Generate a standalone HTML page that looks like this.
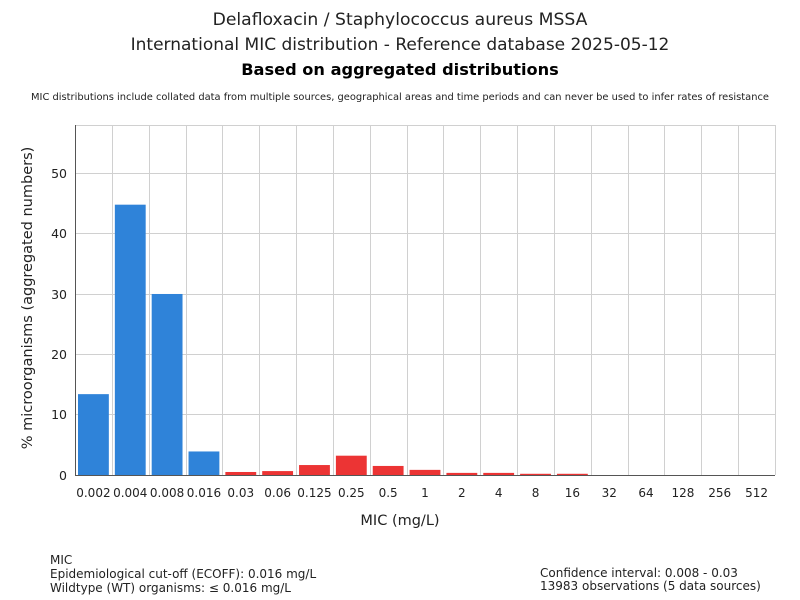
<!DOCTYPE html>
<html><head><meta charset="utf-8"><style>
body{margin:0;background:#fff}
svg{display:block;font-family:"DejaVu Sans","Liberation Sans",sans-serif}
</style></head><body>
<svg width="800" height="600" viewBox="0 0 800 600">
<rect width="800" height="600" fill="#fff"/>
<text x="400" y="25" font-size="17.2" text-anchor="middle" fill="#222">Delafloxacin / Staphylococcus aureus MSSA</text>
<text x="400" y="50" font-size="17" text-anchor="middle" fill="#222">International MIC distribution - Reference database 2025-05-12</text>
<text x="400" y="75" font-size="16.2" font-weight="bold" text-anchor="middle" fill="#000">Based on aggregated distributions</text>
<text x="400" y="100" font-size="9.9" text-anchor="middle" fill="#222">MIC distributions include collated data from multiple sources, geographical areas and time periods and can never be used to infer rates of resistance</text>
<g id="grid" stroke="#d0d0d0" stroke-width="1">
<line x1="75" x2="775" y1="125.5" y2="125.5"/>
<line x1="75" x2="775" y1="173.5" y2="173.5"/>
<line x1="75" x2="775" y1="233.5" y2="233.5"/>
<line x1="75" x2="775" y1="294.5" y2="294.5"/>
<line x1="75" x2="775" y1="354.5" y2="354.5"/>
<line x1="75" x2="775" y1="414.5" y2="414.5"/>
</g>
<g stroke="#d0d0d0" stroke-width="1" id="vg"></g>
<g id="bars"></g>
<line x1="75.5" x2="75.5" y1="125" y2="475" stroke="#555"/>
<line x1="75" x2="775" y1="475.5" y2="475.5" stroke="#555"/>
<g font-size="12.5" fill="#222" text-anchor="end">
<text x="67" y="178">50</text><text x="67" y="238">40</text><text x="67" y="299">30</text>
<text x="67" y="359">20</text><text x="67" y="419">10</text><text x="67" y="480">0</text>
</g>
<g id="xl" font-size="12" fill="#222" text-anchor="middle"></g>
<text x="400" y="525" font-size="14.5" text-anchor="middle" fill="#222">MIC (mg/L)</text>
<text transform="translate(32,298) rotate(-90)" font-size="14.5" text-anchor="middle" fill="#222">% microorganisms (aggregated numbers)</text>
<g font-size="12" fill="#222">
<text x="50" y="564">MIC</text>
<text x="50" y="578">Epidemiological cut-off (ECOFF): 0.016 mg/L</text>
<text x="50" y="592">Wildtype (WT) organisms: ≤ 0.016 mg/L</text>
<text x="540" y="577">Confidence interval: 0.008 - 0.03</text>
<text x="540" y="590">13983 observations (5 data sources)</text>
</g>
</svg>
<script>
var labs=["0.002","0.004","0.008","0.016","0.03","0.06","0.125","0.25","0.5","1","2","4","8","16","32","64","128","256","512"];
var vals=[13.4,44.8,30,3.9,0.5,0.65,1.65,3.2,1.5,0.85,0.35,0.35,0.2,0.2,0,0,0,0,0];
var w=700/19,ns="http://www.w3.org/2000/svg";
function el(t,a,p){var e=document.createElementNS(ns,t);for(var k in a)e.setAttribute(k,a[k]);document.getElementById(p).appendChild(e);return e;}
for(var i=1;i<=19;i++){var x=Math.round(75+i*w)+0.5;el("line",{x1:x,x2:x,y1:125,y2:475},"vg");}
for(var i=0;i<19;i++){var x0=75+i*w;
if(vals[i]>0){var h=vals[i]*6.034;el("rect",{x:x0+3,y:475-h,width:w-6,height:h,fill:i<4?"#2f83d9":"#ec3434"},"bars");}
var t=el("text",{x:x0+w/2,y:497},"xl");t.textContent=labs[i];}
</script>
</body></html>
